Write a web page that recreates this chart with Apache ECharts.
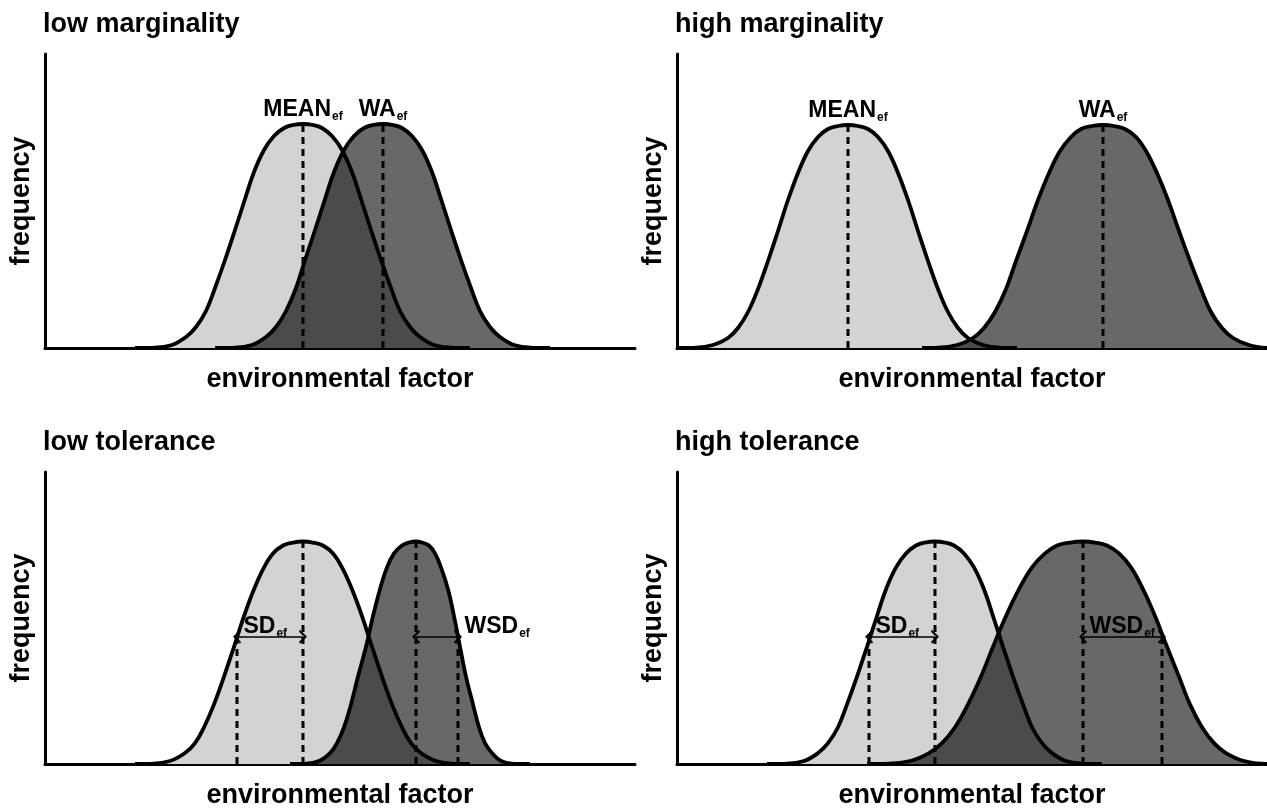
<!DOCTYPE html>
<html>
<head>
<meta charset="utf-8">
<title>marginality and tolerance</title>
<script src="https://cdn.jsdelivr.net/npm/echarts@6/dist/echarts.min.js"></script>
<style>
  html, body { margin: 0; padding: 0; background: #fff; }
  #chart { width: 1267px; height: 810px; }
</style>
</head>
<body>
<div id="chart"></div>
<script>
// outlines: [environmental factor, frequency]
const light1 = [[90,0],[107,0],[127,3],[141,11],[151,21],[161,37],[170,60],[180,88],[190,118],[200,149],[209,176],[219,198],[229,212],[239,220],[248,223],[258,224],[268,223],[277,220],[287,212],[297,198],[307,176],[316,149],[326,118],[336,88],[346,60],[355,37],[365,21],[375,11],[389,3],[409,0],[425,0]];
const dark1 = [[170,0],[187,0],[207,3],[221,11],[231,21],[241,37],[251,60],[260,88],[270,118],[280,149],[289,176],[299,198],[309,212],[319,220],[328,223],[338,224],[348,223],[357,220],[367,212],[377,198],[387,176],[396,149],[406,118],[416,88],[426,60],[435,37],[445,21],[455,11],[469,3],[489,0],[505,0]];
const overlap1L = [[187,0],[207,3],[221,11],[231,21],[241,37],[251,60],[260,88],[270,118],[280,149],[289,176],[298,196]];
const overlap1R = [[298,196],[307,176],[316,149],[326,118],[336,88],[346,60],[355,37],[365,21],[375,11],[389,3],[409,0]];

const light2 = [[0,0],[16,0],[36,3],[51,10],[61,20],[71,36],[81,59],[91,87],[101,117],[111,148],[121,175],[131,197],[141,211],[151,219],[161,222],[171,223],[181,222],[191,219],[201,211],[211,197],[221,175],[231,148],[241,117],[251,87],[261,59],[271,36],[281,20],[291,10],[306,3],[326,0],[340,0]];
const dark2 = [[245,0],[258,0],[280,3],[296,10],[307,20],[318,36],[329,59],[339,87],[350,117],[361,148],[372,175],[383,197],[394,211],[404,219],[415,222],[426,223],[437,222],[448,219],[459,211],[469,197],[480,175],[491,148],[502,117],[513,87],[524,59],[534,36],[545,20],[556,10],[572,3],[590,0]];
const overlap2L = [[258,0],[280,3],[293,9]];
const overlap2R = [[293,9],[306,3],[326,0]];

const light3 = [[90,0],[105,0],[125,3],[140,11],[150,21],[159,37],[169,60],[179,88],[189,118],[199,149],[209,176],[219,198],[228,212],[238,220],[248,223],[258,224],[268,223],[278,220],[288,212],[297,198],[307,176],[317,149],[327,118],[337,88],[347,60],[357,37],[366,21],[376,11],[391,3],[411,0],[425,0]];
const dark3 = [[245,0],[259,0],[274,3],[285,11],[292,21],[299,37],[306,60],[313,88],[321,118],[328,149],[335,176],[342,198],[349,212],[357,220],[364,223],[371,224],[377,223],[384,220],[390,212],[396,198],[403,176],[409,149],[415,118],[421,88],[428,60],[434,37],[440,21],[447,11],[456,3],[469,0],[485,0]];
const overlap3L = [[259,0],[274,3],[285,11],[292,21],[299,37],[306,60],[313,88],[321,118],[324,130]];
const overlap3R = [[324,130],[327,118],[337,88],[347,60],[357,37],[366,21],[376,11],[391,3],[411,0]];

const light4 = [[90,0],[107,0],[127,3],[141,11],[151,21],[161,37],[170,60],[180,88],[190,118],[200,149],[209,176],[219,198],[229,212],[239,220],[248,223],[258,224],[268,223],[277,220],[287,212],[297,198],[307,176],[316,149],[326,118],[336,88],[346,60],[355,37],[365,21],[375,11],[389,3],[409,0],[425,0]];
const dark4 = [[190,0],[208,0],[233,3],[252,11],[265,21],[278,37],[291,60],[304,88],[316,118],[329,149],[342,176],[355,198],[368,212],[380,220],[393,223],[406,224],[418,223],[430,220],[442,212],[454,198],[466,176],[478,149],[490,118],[502,88],[513,60],[525,37],[537,21],[549,11],[567,3],[590,0]];
const overlap4L = [[208,0],[233,3],[252,11],[265,21],[278,37],[291,60],[304,88],[316,118],[321,132]];
const overlap4R = [[321,132],[326,118],[336,88],[346,60],[355,37],[365,21],[375,11],[389,3],[409,0]];

// dashed guides: [x, top]
const dash1 = [[258,224],[338,224]];
const dash2 = [[171,223],[426,223]];
const dash3 = [[192,128],[258,224],[371,224],[413,128]];
const dash4 = [[192,126],[258,224],[406,224],[485,128]];

// labels above the peaks
const peaks1 = [[258,224,'MEAN'],[338,224,'WA']];
const peaks2 = [[171,223,'MEAN'],[426,223,'WA']];

// spread arrows: [from, to, height] and their labels
const arrows3 = [[192,258,128],[371,413,128]];
const arrows4 = [[192,258,128],[406,485,128]];
const spread3 = [[192,128,'SD'],[413,128,'WSD']];
const spread4 = [[192,128,'SD'],[406,128,'WSD']];

const titles = ['low marginality', 'high marginality', 'low tolerance', 'high tolerance'];
const xName = 'environmental factor';
const yName = 'frequency';

const FONT = "'Liberation Sans', Arial, sans-serif";
const LIGHT = '#d3d3d3';
const DARK = '#686868';
const OVERLAP = '#4b4b4b';
const SMOOTH = 0.4;
const CHEVRON = 'path://M0,8 L6,0 L12,8 L10.4,9 L6,3.4 L1.6,9 Z';

const panels = [
  { light: light1, dark: dark1, overlap: [overlap1L, overlap1R], dashes: dash1, peaks: peaks1, arrows: [], spread: [] },
  { light: light2, dark: dark2, overlap: [overlap2L, overlap2R], dashes: dash2, peaks: peaks2, arrows: [], spread: [] },
  { light: light3, dark: dark3, overlap: [overlap3L, overlap3R], dashes: dash3, peaks: [], arrows: arrows3, spread: spread3 },
  { light: light4, dark: dark4, overlap: [overlap4L, overlap4R], dashes: dash4, peaks: [], arrows: arrows4, spread: spread4 }
];

const gridPos = [
  { left: 45, top: 54 },
  { left: 677, top: 54 },
  { left: 45, top: 472 },
  { left: 677, top: 472 }
];

const rich = {
  m: { fontSize: 23, fontWeight: 'bold', fontFamily: FONT, color: '#000', lineHeight: 26 },
  s: { fontSize: 12, fontWeight: 'bold', fontFamily: FONT, color: '#000', lineHeight: 12, verticalAlign: 'bottom', padding: [0, 0, 0, 1] }
};

const fillSeries = (i, data, color, z) => ({
  type: 'line', xAxisIndex: i, yAxisIndex: i, data, smooth: SMOOTH,
  symbol: 'none', silent: true, z,
  lineStyle: { width: 0, opacity: 0 },
  areaStyle: { color, opacity: 1 }
});

// scatter defaults to 0.8 opacity, which would also fade the labels
const labelSeries = (i, items, label) => ({
  type: 'scatter', xAxisIndex: i, yAxisIndex: i, silent: true, z: 6,
  symbolSize: 1, itemStyle: { color: 'rgba(0,0,0,0)', opacity: 1 },
  label: Object.assign({
    show: true, color: '#000', textBorderWidth: 0,
    formatter: q => '{m|' + q.name + '}{s|ef}', rich
  }, label),
  data: items.map(([x, y, n]) => ({ value: [x, y], name: n }))
});

const series = [];
panels.forEach((p, i) => {
  series.push(fillSeries(i, p.light, LIGHT, 1));
  series.push(fillSeries(i, p.dark, DARK, 2));
  p.overlap.forEach(o => series.push(fillSeries(i, o, OVERLAP, 3)));
  [p.light, p.dark].forEach(d => series.push({
    type: 'line', xAxisIndex: i, yAxisIndex: i, data: d, smooth: SMOOTH,
    symbol: 'none', silent: true, z: 4,
    lineStyle: { color: '#000', width: 3.8 }
  }));
  p.dashes.forEach(([x, top]) => series.push({
    type: 'line', xAxisIndex: i, yAxisIndex: i, data: [[x, 0], [x, top]],
    symbol: 'none', silent: true, z: 5,
    lineStyle: { color: '#000', width: 3, type: [7, 5] }
  }));
  if (p.arrows.length) {
    series.push({
      type: 'line', xAxisIndex: i, yAxisIndex: i, data: [], silent: true,
      markLine: {
        silent: true,
        symbol: [CHEVRON, CHEVRON],
        symbolSize: [14, 8],
        label: { show: false },
        lineStyle: { color: '#000', width: 1.6, type: 'solid' },
        itemStyle: { color: '#000' },
        emphasis: { disabled: true },
        data: p.arrows.map(([a, b, h]) => [{ coord: [a, h] }, { coord: [b, h] }])
      }
    });
  }
  if (p.peaks.length) series.push(labelSeries(i, p.peaks, { position: 'top', distance: 1 }));
  if (p.spread.length) series.push(labelSeries(i, p.spread, { position: [7, -23] }));
});

const option = {
  animation: false,
  backgroundColor: '#fff',
  title: titles.map((t, i) => ({
    text: t,
    left: gridPos[i].left - 2,
    top: gridPos[i].top - 43,
    padding: 0,
    textStyle: { fontSize: 27, fontWeight: 'bold', fontFamily: FONT, color: '#000' }
  })),
  grid: gridPos.map(g => ({ left: g.left, top: g.top, width: 590, height: 294 })),
  xAxis: gridPos.map((g, i) => ({
    type: 'value', gridIndex: i, min: 0, max: 590,
    name: xName, nameLocation: 'middle', nameGap: 18,
    nameTextStyle: { fontSize: 27, fontWeight: 'bold', fontFamily: FONT, color: '#000', verticalAlign: 'top' },
    axisLine: { show: true, onZero: false, lineStyle: { color: '#000', width: 3 } },
    axisTick: { show: false }, axisLabel: { show: false }, splitLine: { show: false }
  })),
  yAxis: gridPos.map((g, i) => ({
    type: 'value', gridIndex: i, min: 0, max: 294,
    name: yName, nameLocation: 'middle', nameGap: 10, nameRotate: 90,
    nameTextStyle: { fontSize: 27, fontWeight: 'bold', fontFamily: FONT, color: '#000' },
    axisLine: { show: true, onZero: false, lineStyle: { color: '#000', width: 3 } },
    axisTick: { show: false }, axisLabel: { show: false }, splitLine: { show: false }
  })),
  series
};

const chart = echarts.init(document.getElementById('chart'), null, { renderer: 'canvas' });
chart.setOption(option);
</script>
</body>
</html>
